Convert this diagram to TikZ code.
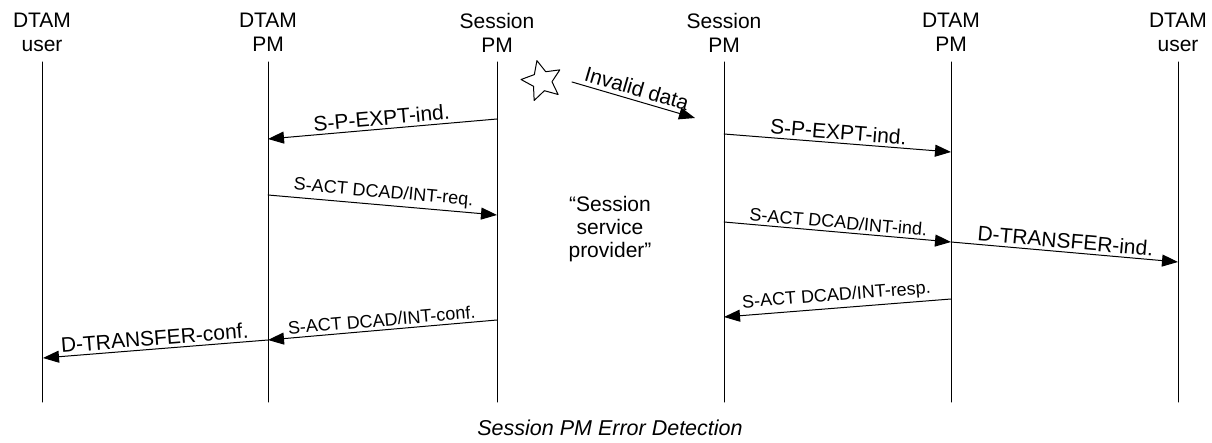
\documentclass[tikz,border=0pt]{standalone}
\usepackage{fontspec}
\setmainfont{Liberation Sans}
\usetikzlibrary{arrows.meta,shapes.geometric}
\tikzset{
  msg/.style={-{Triangle[length=16pt,width=12pt]}},
  hdr/.style={anchor=north,inner sep=0pt,align=center,font=\fontsize{21}{24}\selectfont},
  biglbl/.style={font=\fontsize{21}{24}\selectfont,sloped,above,inner sep=3pt},
  smalllbl/.style={font=\fontsize{18}{21}\selectfont,sloped,above,inner sep=3pt},
}

\begin{document}
\begin{tikzpicture}[x=1pt,y=-1pt,line width=1pt,line cap=round,line join=round]
\useasboundingbox (0,0) rectangle (1212,443);
% heads
\node[hdr] (uL) at (42,12.5) {DTAM\\user};
\node[hdr] (pL) at (268,12.5) {DTAM\\PM};
\node[hdr] (sL) at (497,12.5) {Session\\PM};
\node[hdr] (sR) at (724,12.5) {Session\\PM};
\node[hdr] (pR) at (951,12.5) {DTAM\\PM};
\node[hdr] (uR) at (1178,12.5) {DTAM\\user};
% lifelines
\foreach \n/\x in {uL/42,pL/268,sL/497,sR/724,pR/951,uR/1178} {
  \coordinate (\n top) at (\x,62);
  \coordinate (\n bot) at (\x,402);
  \draw (\n top) -- (\n bot);
}
% message ends
\coordinate (m1a) at (497,119);  \coordinate (m1b) at (268,139);
\coordinate (m2a) at (724,134);  \coordinate (m2b) at (951,152);
\coordinate (m3a) at (268,195);  \coordinate (m3b) at (497,215);
\coordinate (m4a) at (724,222);  \coordinate (m4b) at (951,242);
\coordinate (m5b) at (1178,262);
\coordinate (m6a) at (951,299);  \coordinate (m6b) at (724,317);
\coordinate (m7a) at (497,320);  \coordinate (m7b) at (268,340);
\coordinate (m8b) at (43,358);
\coordinate (inva) at (572,82);  \coordinate (invb) at (695,118);
% error
\node[star,star points=5,star point ratio=2.1,draw,minimum size=42pt,inner sep=0pt,rotate=14] (err) at (542,81) {};
\draw[msg] (inva) -- node[biglbl,inner sep=4pt] {Invalid data} (invb);
% messages
\draw[msg] (m1a) -- node[biglbl] {S-P-EXPT-ind.} (m1b);
\draw[msg] (m2a) -- node[biglbl] {S-P-EXPT-ind.} (m2b);
\draw[msg] (m3a) -- node[smalllbl] {S-ACT DCAD/INT-req.} (m3b);
\draw[msg] (m4a) -- node[smalllbl] {S-ACT DCAD/INT-ind.} (m4b);
\draw[msg] (m4b) -- node[biglbl] {D-TRANSFER-ind.} (m5b);
\draw[msg] (m6a) -- node[smalllbl] {S-ACT DCAD/INT-resp.} (m6b);
\draw[msg] (m7a) -- node[smalllbl] {S-ACT DCAD/INT-conf.} (m7b);
\draw[msg] (m7b) -- node[biglbl] {D-TRANSFER-conf.} (m8b);
% provider
\node[align=center,font=\fontsize{21}{23}\selectfont] (spv) at (610,229) {“Session\\service\\provider”};
\node[font=\fontsize{21.5}{24}\selectfont\itshape] (cap) at (610,428) {Session PM Error Detection};
\end{tikzpicture}
\end{document}
